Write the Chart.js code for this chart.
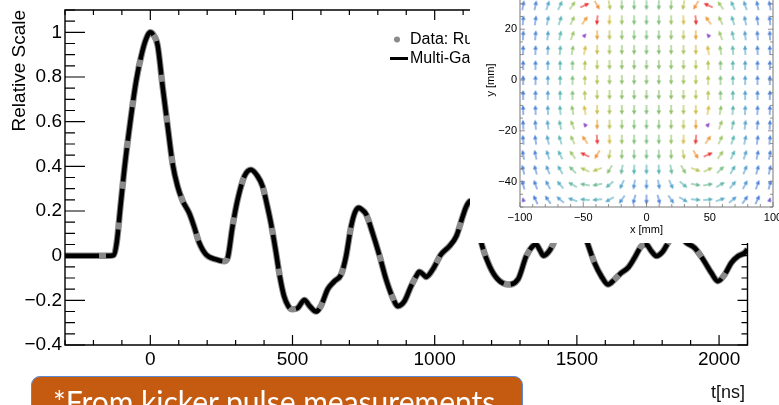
<!DOCTYPE html>
<html>
<head>
<meta charset="utf-8">
<script src="https://cdn.jsdelivr.net/npm/chart.js@4.4.1/dist/chart.umd.min.js"></script>
<style>
  html, body { margin: 0; padding: 0; background: #fff; overflow: hidden; }
  #wrap { position: relative; width: 779px; height: 405px; overflow: hidden; background: #fff; }
  #main { position: absolute; left: 0; top: 0; }
  #insetBox { position: absolute; left: 470px; top: -60px; width: 309px; height: 303px; background: #fff; }
  #tlabel { position: absolute; left: 711px; top: 382px; font: 18px "Liberation Sans", Arial, sans-serif; color: #111; }
  #note { position: absolute; left: 31px; top: 376px; width: 492px; height: 60px; box-sizing: border-box;
          background: #C55A11; border: 1.5px solid #5B8BD6; border-radius: 9px; }
  #note span { position: absolute; left: 21px; top: 6px; font: 30px Lato, "Open Sans", sans-serif; color: #fff; white-space: nowrap; }
</style>
</head>
<body>
<div id="wrap">
  <canvas id="main" width="779" height="405"></canvas>
  <div id="insetBox"><canvas id="inset" width="309" height="303"></canvas></div>
  <div id="tlabel">t[ns]</div>
  <div id="note"><span>*From kicker pulse measurements</span></div>
</div>
<script>
// ---- kicker pulse shape: time [ns] and relative amplitude ----
const times = [-300, -200, -140, -128, -118, -105, -91, -74, -50, -27, -10, 0, 10, 26, 43, 61, 78, 96, 114, 137,
  154, 172, 196, 231, 261, 272, 289, 307, 331, 354, 375, 395, 410, 425, 440, 455, 470, 485, 500, 518,
  542, 560, 583, 600, 624, 648, 671, 688, 706, 720, 733, 745, 759, 782, 806, 829, 853, 870, 894, 917,
  935, 946, 958, 970, 993, 1022, 1052, 1076, 1099, 1111, 1125, 1138, 1150, 1164, 1193, 1222, 1257, 1293, 1322, 1345,
  1357, 1370, 1382, 1398, 1416, 1440, 1470, 1500, 1525, 1539, 1562, 1586, 1609, 1633, 1656, 1680, 1703, 1727, 1744, 1762,
  1780, 1803, 1821, 1840, 1860, 1885, 1914, 1944, 1973, 1996, 2020, 2043, 2067, 2090, 2100];
const relScale = [0, 0, 0, 0.003, 0.06, 0.22, 0.39, 0.565, 0.78, 0.92, 0.985, 1.0, 0.99, 0.94, 0.76, 0.58, 0.415, 0.31, 0.245, 0.19,
  0.13, 0.058, 0.005, -0.017, -0.025, -0.01, 0.13, 0.25, 0.356, 0.385, 0.36, 0.31, 0.23, 0.14, 0.03, -0.09, -0.18, -0.225, -0.24, -0.235,
  -0.198, -0.225, -0.25, -0.225, -0.15, -0.114, -0.084, -0.005, 0.13, 0.195, 0.215, 0.205, 0.185, 0.10, 0.0, -0.106, -0.19, -0.226, -0.203, -0.136,
  -0.092, -0.072, -0.082, -0.095, -0.062, 0.005, 0.043, 0.087, 0.177, 0.22, 0.245, 0.225, 0.15, 0.058, -0.047, -0.106, -0.129, -0.106, -0.002, 0.043,
  0.05, 0.025, 0.0, 0.013, 0.05, 0.13, 0.17, 0.15, 0.1, 0.05, -0.032, -0.092, -0.129, -0.106, -0.077, -0.054, -0.009, 0.043, 0.05, 0.02,
  -0.002, 0.02, 0.058, 0.09, 0.09, 0.058, 0.035, -0.017, -0.077, -0.114, -0.084, -0.032, -0.002, 0.013, 0.028];

const xTickValues = [0, 500, 1000, 1500, 2000];
const yTickValues = [-0.4, -0.2, 0, 0.2, 0.4, 0.6, 0.8, 1];
const seriesLabels = ['Data: Run 1', 'Multi-Gaussian fit'];

// ---- kicker field map (inset): grid positions [mm], arrow direction [deg], relative strength ----
const fieldX = [-97.5, -87.75, -78, -68.25, -58.5, -48.75, -39, -29.25, -19.5, -9.75, 0,
  9.75, 19.5, 29.25, 39, 48.75, 58.5, 68.25, 78, 87.75, 97.5];
const fieldY = [29.4, 23.5, 17.6, 11.8, 5.9, 0, -5.9, -11.8, -17.6, -23.5, -29.4, -35.3, -41.2, -47.1];
const fieldAngle = [
  [80, 78, 72, 65, 55, 25, -60, -80, -88, -90, -90, -90, -92, -100, -120, 155, 125, 115, 108, 102, 100],
  [84, 82, 78, 72, 65, 55, -95, -92, -90, -90, -90, -90, -90, -88, -85, 125, 115, 108, 102, 98, 96],
  [87, 85, 83, 78, 70, 50, -90, -90, -90, -90, -90, -90, -90, -90, -90, 130, 110, 102, 97, 95, 93],
  [89, 88, 87, 85, 80, 80, -90, -90, -90, -90, -90, -90, -90, -90, -90, 100, 100, 95, 93, 92, 91],
  [90, 90, 90, 90, 90, 88, -90, -90, -90, -90, -90, -90, -90, -90, -90, 92, 90, 90, 90, 90, 90],
  [90, 90, 90, 90, 90, 90, -90, -90, -90, -90, -90, -90, -90, -90, -90, 90, 90, 90, 90, 90, 90],
  [90, 90, 90, 90, 90, 92, -90, -90, -90, -90, -90, -90, -90, -90, -90, 88, 90, 90, 90, 90, 90],
  [91, 92, 93, 95, 100, 100, -90, -90, -90, -90, -90, -90, -90, -90, -90, 80, 80, 85, 87, 88, 89],
  [93, 95, 97, 102, 110, 130, -90, -90, -90, -90, -90, -90, -90, -90, -90, 50, 70, 78, 83, 85, 87],
  [96, 98, 102, 108, 115, 125, -85, -88, -90, -90, -90, -90, -90, -92, -95, 55, 65, 72, 78, 82, 84],
  [100, 102, 108, 115, 125, 155, -120, -100, -92, -90, -90, -90, -88, -80, -60, 25, 55, 65, 72, 78, 80],
  [103, 106, 112, 120, 135, 155, -160, -120, -100, -92, -90, -88, -80, -60, -20, 25, 45, 60, 68, 74, 77],
  [105, 110, 118, 130, 150, 170, -170, -140, -115, -100, -90, -80, -65, -40, -10, 10, 30, 50, 62, 70, 75],
  [108, 115, 125, 140, 160, 175, -175, -150, -125, -105, -90, -75, -55, -30, -5, 5, 20, 40, 55, 65, 72]
];
const fieldLevel = [
  [0.15, 0.17, 0.27, 0.35, 0.55, 1.0, 0.85, 0.62, 0.5, 0.46, 0.45, 0.46, 0.5, 0.62, 0.85, 1.0, 0.55, 0.35, 0.27, 0.17, 0.15],
  [0.15, 0.17, 0.27, 0.36, 0.55, 0.82, 1.0, 0.7, 0.55, 0.48, 0.46, 0.48, 0.55, 0.7, 1.0, 0.82, 0.55, 0.36, 0.27, 0.17, 0.15],
  [0.15, 0.17, 0.27, 0.37, 0.55, 0.0, 0.8, 0.62, 0.52, 0.48, 0.47, 0.48, 0.52, 0.62, 0.8, 0.0, 0.55, 0.37, 0.27, 0.17, 0.15],
  [0.15, 0.17, 0.27, 0.37, 0.52, 0.72, 0.68, 0.58, 0.52, 0.49, 0.48, 0.49, 0.52, 0.58, 0.68, 0.72, 0.52, 0.37, 0.27, 0.17, 0.15],
  [0.15, 0.17, 0.26, 0.36, 0.48, 0.6, 0.62, 0.56, 0.52, 0.5, 0.5, 0.5, 0.52, 0.56, 0.62, 0.6, 0.48, 0.36, 0.26, 0.17, 0.15],
  [0.15, 0.17, 0.26, 0.36, 0.48, 0.6, 0.62, 0.56, 0.52, 0.5, 0.5, 0.5, 0.52, 0.56, 0.62, 0.6, 0.48, 0.36, 0.26, 0.17, 0.15],
  [0.15, 0.17, 0.26, 0.36, 0.48, 0.6, 0.62, 0.56, 0.52, 0.5, 0.5, 0.5, 0.52, 0.56, 0.62, 0.6, 0.48, 0.36, 0.26, 0.17, 0.15],
  [0.15, 0.17, 0.27, 0.37, 0.52, 0.72, 0.68, 0.58, 0.52, 0.49, 0.48, 0.49, 0.52, 0.58, 0.68, 0.72, 0.52, 0.37, 0.27, 0.17, 0.15],
  [0.15, 0.17, 0.27, 0.37, 0.55, 0.0, 0.8, 0.62, 0.52, 0.48, 0.47, 0.48, 0.52, 0.62, 0.8, 0.0, 0.55, 0.37, 0.27, 0.17, 0.15],
  [0.15, 0.17, 0.27, 0.36, 0.55, 0.82, 1.0, 0.7, 0.55, 0.48, 0.46, 0.48, 0.55, 0.7, 1.0, 0.82, 0.55, 0.36, 0.27, 0.17, 0.15],
  [0.15, 0.17, 0.27, 0.35, 0.55, 1.0, 0.85, 0.62, 0.5, 0.46, 0.45, 0.46, 0.5, 0.62, 0.85, 1.0, 0.55, 0.35, 0.27, 0.17, 0.15],
  [0.15, 0.17, 0.25, 0.33, 0.45, 0.58, 0.62, 0.5, 0.4, 0.35, 0.33, 0.35, 0.4, 0.5, 0.62, 0.58, 0.45, 0.33, 0.25, 0.17, 0.15],
  [0.13, 0.15, 0.22, 0.3, 0.38, 0.42, 0.42, 0.36, 0.28, 0.22, 0.2, 0.22, 0.28, 0.36, 0.42, 0.42, 0.38, 0.3, 0.22, 0.15, 0.13],
  [0.05, 0.12, 0.18, 0.25, 0.3, 0.33, 0.33, 0.3, 0.22, 0.16, 0.14, 0.16, 0.22, 0.3, 0.33, 0.33, 0.3, 0.25, 0.18, 0.12, 0.05]
];
const insetXTicks = [-100, -50, 0, 50, 100];
const insetYTicks = [-40, -20, 0, 20, 40];

// ---------------------------------------------------------------------------
const FONT = '"Liberation Sans", Arial, Helvetica, sans-serif';
const minus = v => (v < 0 ? '\u2212' + String(Math.abs(v)) : String(v));

// keep the plot area fixed: no extra room reserved for overhanging end labels
function fixBox(prop, size) {
  return s => { s[prop] = size; s.paddingLeft = 0; s.paddingRight = 0; s.paddingTop = 0; s.paddingBottom = 0; };
}

// inward frame ticks (major + minor) on all four sides
function frameTicks(opts) {
  return {
    id: 'frameTicks',
    afterDraw(chart) {
      const { ctx, chartArea: a, scales } = chart;
      const sx = scales.x, sy = scales.y;
      ctx.save();
      ctx.strokeStyle = opts.color;
      ctx.lineWidth = opts.width;
      ctx.beginPath();
      ctx.rect(a.left, a.top, a.right - a.left, a.bottom - a.top);
      ctx.stroke();
      ctx.lineWidth = opts.tickWidth;
      ctx.beginPath();
      for (let k = opts.xk0; k <= opts.xk1; k++) {
        const px = sx.getPixelForValue(k * opts.xStep);
        const l = k % opts.xMajorEvery === 0 ? opts.xMajor : opts.xMinor;
        ctx.moveTo(px, a.bottom); ctx.lineTo(px, a.bottom - l);
        ctx.moveTo(px, a.top); ctx.lineTo(px, a.top + l);
      }
      for (let k = opts.yk0; k <= opts.yk1; k++) {
        const py = sy.getPixelForValue(k * opts.yStep);
        const major = k % opts.yMajorEvery === 0;
        ctx.moveTo(a.left, py); ctx.lineTo(a.left + (major ? opts.yMajor : opts.yMinor), py);
        ctx.moveTo(a.right, py); ctx.lineTo(a.right - (major ? opts.rMajor : opts.rMinor), py);
      }
      ctx.stroke();
      ctx.restore();
    }
  };
}

// legend drawn inside the plot area, upper right
const legendInside = {
  id: 'legendInside',
  afterDraw(chart) {
    const { ctx } = chart;
    const ds = chart.data.datasets;
    ctx.save();
    ctx.font = '16px ' + FONT;
    ctx.textBaseline = 'middle';
    ctx.fillStyle = ds[0].borderColor;
    ctx.beginPath(); ctx.arc(397, 39.5, 3, 0, Math.PI * 2); ctx.fill();
    ctx.fillStyle = '#000';
    ctx.fillText(ds[0].label, 410, 40);
    ctx.strokeStyle = ds[1].borderColor;
    ctx.lineWidth = 3;
    ctx.beginPath(); ctx.moveTo(390, 58.5); ctx.lineTo(408, 58.5); ctx.stroke();
    ctx.fillText(ds[1].label, 410, 59);
    ctx.restore();
  }
};

const pts = times.map((t, i) => ({ x: t, y: relScale[i] }));

new Chart(document.getElementById('main'), {
  type: 'line',
  data: {
    datasets: [
      { label: seriesLabels[0], data: pts, borderColor: '#8a8a8a', borderWidth: 6.5, pointRadius: 0,
        cubicInterpolationMode: 'monotone', order: 2 },
      { label: seriesLabels[1], data: pts, borderColor: '#000000', borderWidth: 4.5, borderDash: [34, 7], pointRadius: 0,
        cubicInterpolationMode: 'monotone', order: 1 }
    ]
  },
  options: {
    responsive: false, animation: false, events: [],
    layout: { padding: { top: 10, right: 31.5, left: 0, bottom: 0 } },
    plugins: { legend: { display: false }, tooltip: { enabled: false } },
    scales: {
      x: {
        type: 'linear', min: -300, max: 2100,
        afterBuildTicks: s => { s.ticks = xTickValues.map(v => ({ value: v })); },
        afterFit: fixBox('height', 60),
        grid: { display: false, drawTicks: false }, border: { display: false },
        ticks: { color: '#000', font: { family: FONT, size: 19 }, padding: 3, maxRotation: 0, autoSkip: false,
                 callback: v => minus(v) }
      },
      y: {
        type: 'linear', min: -0.4, max: 1.1,
        afterBuildTicks: s => { s.ticks = yTickValues.map(v => ({ value: v })); },
        afterFit: fixBox('width', 65),
        grid: { display: false, drawTicks: false }, border: { display: false },
        ticks: { color: '#000', font: { family: FONT, size: 19 }, padding: 3, autoSkip: false,
                 callback: v => minus(v) },
        title: { display: true, text: 'Relative Scale', align: 'end', color: '#000',
                 font: { family: FONT, size: 19 }, padding: { top: 8, bottom: 0 } }
      }
    }
  },
  plugins: [frameTicks({ color: '#000', width: 1.4, tickWidth: 1.2,
    xStep: 100, xk0: -3, xk1: 21, xMajorEvery: 5, xMajor: 10, xMinor: 5,
    yStep: 0.05, yk0: -8, yk1: 22, yMajorEvery: 4, yMajor: 20, yMinor: 10, rMajor: 10, rMinor: 6 }), legendInside]
});

// ---- inset: field arrows ----
const colorStops = [
  [0.00, [140, 64, 200]], [0.12, [60, 110, 216]], [0.25, [74, 152, 208]], [0.35, [77, 176, 176]],
  [0.48, [124, 188, 112]], [0.60, [174, 194, 76]], [0.72, [214, 184, 58]], [0.85, [240, 138, 42]], [1.00, [232, 40, 40]]
];
function levelColor(t) {
  for (let i = 1; i < colorStops.length; i++) {
    if (t <= colorStops[i][0]) {
      const [t0, c0] = colorStops[i - 1], [t1, c1] = colorStops[i];
      const f = (t - t0) / (t1 - t0);
      const c = c0.map((v, k) => Math.round(v + (c1[k] - v) * f));
      return 'rgba(' + c.join(',') + ',0.9)';
    }
  }
  return 'rgba(232,40,40,0.9)';
}
const arrowCache = {};
function arrowImage(level) {
  const len = level < 0.08 ? 5 : 10;
  const key = level.toFixed(3);
  if (arrowCache[key]) return arrowCache[key];
  const c = document.createElement('canvas');
  c.width = len + 4; c.height = 8;
  const g = c.getContext('2d');
  const col = levelColor(level);
  g.strokeStyle = col; g.fillStyle = col; g.lineWidth = 1.2;
  g.beginPath(); g.moveTo(2, 4); g.lineTo(len - 1, 4); g.stroke();
  g.beginPath(); g.moveTo(len + 2, 4); g.lineTo(len - 2.5, 1.8); g.lineTo(len - 2.5, 6.2); g.closePath(); g.fill();
  arrowCache[key] = c;
  return c;
}

const arrowPts = [], arrowAng = [], arrowLvl = [];
fieldY.forEach((y, r) => fieldX.forEach((x, c) => {
  arrowPts.push({ x, y });
  arrowAng.push(fieldAngle[r][c]);
  arrowLvl.push(fieldLevel[r][c]);
}));

new Chart(document.getElementById('inset'), {
  type: 'scatter',
  data: {
    datasets: [{
      label: 'field', data: arrowPts, pointRadius: 5,
      pointStyle: ctx => arrowImage(arrowLvl[ctx.dataIndex]),
      pointRotation: ctx => -arrowAng[ctx.dataIndex]
    }]
  },
  options: {
    responsive: false, animation: false, events: [],
    layout: { padding: { top: 13, right: 3.5, left: 0, bottom: 0 } },
    plugins: { legend: { display: false }, tooltip: { enabled: false } },
    scales: {
      x: {
        type: 'linear', min: -100, max: 100,
        afterBuildTicks: s => { s.ticks = insetXTicks.map(v => ({ value: v })); },
        afterFit: fixBox('height', 36),
        grid: { display: false, drawTicks: false }, border: { display: false },
        ticks: { color: '#000', font: { family: FONT, size: 11 }, padding: 4, maxRotation: 0, autoSkip: false,
                 callback: v => minus(v) },
        title: { display: true, text: 'x [mm]', color: '#000', font: { family: FONT, size: 11 }, padding: { top: 0, bottom: 6 } }
      },
      y: {
        type: 'linear', min: -50, max: 50,
        afterBuildTicks: s => { s.ticks = insetYTicks.map(v => ({ value: v })); },
        afterFit: fixBox('width', 50),
        grid: { display: false, drawTicks: false }, border: { display: false },
        ticks: { color: '#000', font: { family: FONT, size: 11 }, padding: 3, autoSkip: false,
                 callback: v => minus(v) },
        title: { display: true, text: 'y [mm]', color: '#000', font: { family: FONT, size: 11 }, padding: { top: 14, bottom: 0 } }
      }
    }
  },
  plugins: [frameTicks({ color: '#777', width: 1, tickWidth: 0.8,
    xStep: 10, xk0: -10, xk1: 10, xMajorEvery: 5, xMajor: 5, xMinor: 3,
    yStep: 5, yk0: -10, yk1: 10, yMajorEvery: 4, yMajor: 5, yMinor: 3, rMajor: 5, rMinor: 3 })]
});
</script>
</body>
</html>
